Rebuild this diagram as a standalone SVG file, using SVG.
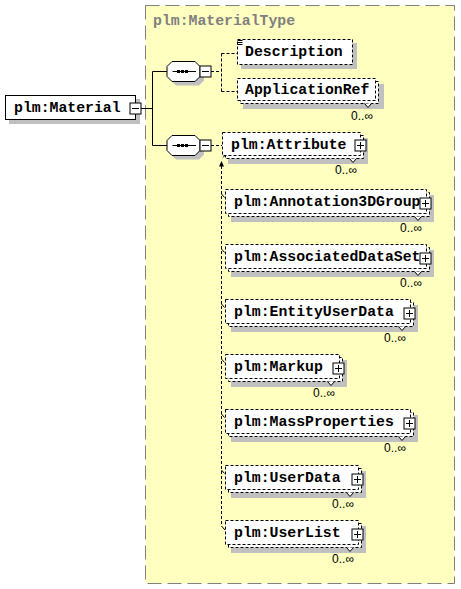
<svg xmlns="http://www.w3.org/2000/svg" width="461" height="589" viewBox="0 0 461 589">
<style>
.lbl{font-family:"Liberation Mono","Courier New",monospace;font-weight:bold;font-size:14.8px;fill:#000}
.ttl{font-family:"Liberation Mono","Courier New",monospace;font-weight:bold;font-size:14.8px;fill:#808080}
.occ{font-family:"Liberation Sans",Arial,sans-serif;font-size:12px;fill:#000;text-anchor:end}
.shd{fill:#c0c0c0;stroke:none}
.box{fill:#fff;stroke:#000;stroke-width:1}
.dbox{fill:#fff;stroke:#000;stroke-width:1;stroke-dasharray:3,2}
.ln{fill:none;stroke:#000;stroke-width:1}
.dln{fill:none;stroke:#000;stroke-width:1;stroke-dasharray:3,2}
.btn{fill:#fff;stroke:#000;stroke-width:1}
</style>
<defs>
<g id="plus"><rect class="btn" x="-5.5" y="-5.5" width="11" height="11"/><path class="ln" d="M-3.5,0H3.5M0,-3.5V3.5"/></g>
<g id="minus"><rect class="btn" x="-5.5" y="-5.5" width="11" height="11"/><path class="ln" d="M-3.5,0H3.5"/></g>
<g id="seq">
<path class="shd" d="M9,4H32L37,9V19L32,24H9L4,19V9Z"/>
<path class="box" d="M5,0H28L33,5V15L28,20H5L0,15V5Z"/>
<path class="ln" d="M5.5,10H29"/>
<rect x="10" y="8.5" width="3" height="3" fill="#000"/><rect x="14" y="8.5" width="3" height="3" fill="#000"/><rect x="18" y="8.5" width="3" height="3" fill="#000"/>
</g>
</defs>

<rect x="145.5" y="5.5" width="309" height="578" fill="#ffffc0" stroke="#808080" stroke-width="1" stroke-dasharray="14,6"/>
<text class="ttl" x="153" y="25">plm:MaterialType</text>

<g id="connectors">
<path class="ln" d="M141,108.5H152.5M152.5,71.5V145.5M152.5,71.5H167M152.5,145.5H167"/>
<path class="dln" d="M211,71.5H221.5M221.5,53.5V91.5M221.5,53.5H237M221.5,91.5H237"/>
<path class="dln" d="M211,145.5H222"/>
<path class="dln" d="M221.5,166V526"/>
<path class="ln" d="M221.5,526L225,530"/>
<path d="M221.5,161L219,166.5H224Z" fill="#000"/>
<path class="ln" d="M223,157.5L227,153.5"/>
<path d="M229,151.5L223.5,153L227.5,157Z" fill="#000"/>
<path class="ln" d="M221.5,194L224.5,197.5M221.5,249L224.5,252.5M221.5,304L224.5,307.5M221.5,359L224.5,362.5M221.5,414L224.5,417.5M221.5,470L224.5,473.5"/>
</g>

<g id="n_material">
<rect class="shd" x="9" y="99" width="131" height="25"/>
<rect class="box" x="5.5" y="95.5" width="130" height="24"/>
<text class="lbl" x="14" y="112">plm:Material</text>
<use href="#minus" x="135.5" y="108.5"/>
</g>

<g id="n_seq1">
<use href="#seq" x="167" y="61.5"/>
<use href="#minus" x="205.5" y="71.5"/>
</g>
<g id="n_seq2">
<use href="#seq" x="167" y="135.5"/>
<use href="#minus" x="205.5" y="145.5"/>
</g>

<g id="n_description">
<rect class="shd" x="241" y="43" width="116" height="26"/>
<rect class="dbox" x="237.5" y="39.5" width="115" height="25"/>
<path class="ln" d="M237.5,40.5H242.5M237.5,42.5H242.5M237.5,44.5H242.5"/>
<text class="lbl" x="245" y="56">Description</text>
</g>

<g id="n_applicationref">
<rect class="shd" x="243" y="84" width="141" height="25"/>
<rect class="dbox" x="240.5" y="81.5" width="138" height="22"/>
<rect class="dbox" x="237.5" y="78.5" width="138" height="22"/>
<path d="M364.5,103.5L368,107.5L371.5,103.5" fill="#fff" stroke="#000"/>
<text class="lbl" x="245" y="94">ApplicationRef</text>
<text class="occ" x="373" y="120">0..∞</text>
</g>

<g id="n_attribute">
<rect class="shd" x="228" y="138" width="140" height="26"/>
<rect class="dbox" x="225.5" y="135.5" width="138" height="23"/>
<rect class="dbox" x="222.5" y="132.5" width="138" height="23"/>
<path d="M349.5,158.5L353,162.5L356.5,158.5" fill="#fff" stroke="#000"/>
<text class="lbl" x="231" y="149">plm:Attribute</text>
<use href="#plus" x="360.5" y="145.5"/>
<text class="occ" x="357" y="174">0..∞</text>
</g>

<g id="n_annotation3dgroup">
<rect class="shd" x="231" y="195" width="203" height="27"/>
<rect class="dbox" x="228.5" y="192.5" width="201" height="24"/>
<rect class="dbox" x="225.5" y="189.5" width="201" height="24"/>
<path d="M414.5,216.5L418,220.5L421.5,216.5" fill="#fff" stroke="#000"/>
<text class="lbl" x="234" y="206">plm:Annotation3DGroup</text>
<use href="#plus" x="425.5" y="203.5"/>
<text class="occ" x="422" y="232">0..∞</text>
</g>

<g id="n_associateddataset">
<rect class="shd" x="231" y="250" width="203" height="27"/>
<rect class="dbox" x="228.5" y="247.5" width="201" height="24"/>
<rect class="dbox" x="225.5" y="244.5" width="201" height="24"/>
<path d="M414.5,271.5L418,275.5L421.5,271.5" fill="#fff" stroke="#000"/>
<text class="lbl" x="234" y="261">plm:AssociatedDataSet</text>
<use href="#plus" x="425.5" y="258.5"/>
<text class="occ" x="422" y="287">0..∞</text>
</g>

<g id="n_entityuserdata">
<rect class="shd" x="231" y="305" width="187" height="27"/>
<rect class="dbox" x="228.5" y="302.5" width="185" height="24"/>
<rect class="dbox" x="225.5" y="299.5" width="185" height="24"/>
<path d="M398.5,326.5L402,330.5L405.5,326.5" fill="#fff" stroke="#000"/>
<text class="lbl" x="234" y="316">plm:EntityUserData</text>
<use href="#plus" x="409.5" y="313.5"/>
<text class="occ" x="406" y="342">0..∞</text>
</g>

<g id="n_markup">
<rect class="shd" x="231" y="360" width="116" height="27"/>
<rect class="dbox" x="228.5" y="357.5" width="114" height="24"/>
<rect class="dbox" x="225.5" y="354.5" width="114" height="24"/>
<path d="M327.5,381.5L331,385.5L334.5,381.5" fill="#fff" stroke="#000"/>
<text class="lbl" x="234" y="371">plm:Markup</text>
<use href="#plus" x="338.5" y="368.5"/>
<text class="occ" x="335" y="397">0..∞</text>
</g>

<g id="n_massproperties">
<rect class="shd" x="231" y="415" width="187" height="27"/>
<rect class="dbox" x="228.5" y="412.5" width="185" height="24"/>
<rect class="dbox" x="225.5" y="409.5" width="185" height="24"/>
<path d="M398.5,436.5L402,440.5L405.5,436.5" fill="#fff" stroke="#000"/>
<text class="lbl" x="234" y="426">plm:MassProperties</text>
<use href="#plus" x="409.5" y="423.5"/>
<text class="occ" x="406" y="452">0..∞</text>
</g>

<g id="n_userdata">
<rect class="shd" x="231" y="471" width="135" height="27"/>
<rect class="dbox" x="228.5" y="468.5" width="133" height="24"/>
<rect class="dbox" x="225.5" y="465.5" width="133" height="24"/>
<path d="M346.5,492.5L350,496.5L353.5,492.5" fill="#fff" stroke="#000"/>
<text class="lbl" x="234" y="482">plm:UserData</text>
<use href="#plus" x="357.5" y="479.5"/>
<text class="occ" x="354" y="508">0..∞</text>
</g>

<g id="n_userlist">
<rect class="shd" x="231" y="526" width="135" height="27"/>
<rect class="dbox" x="228.5" y="523.5" width="133" height="24"/>
<rect class="dbox" x="225.5" y="520.5" width="133" height="24"/>
<path d="M346.5,547.5L350,551.5L353.5,547.5" fill="#fff" stroke="#000"/>
<text class="lbl" x="234" y="537">plm:UserList</text>
<use href="#plus" x="357.5" y="534.5"/>
<text class="occ" x="354" y="563">0..∞</text>
</g>
</svg>
